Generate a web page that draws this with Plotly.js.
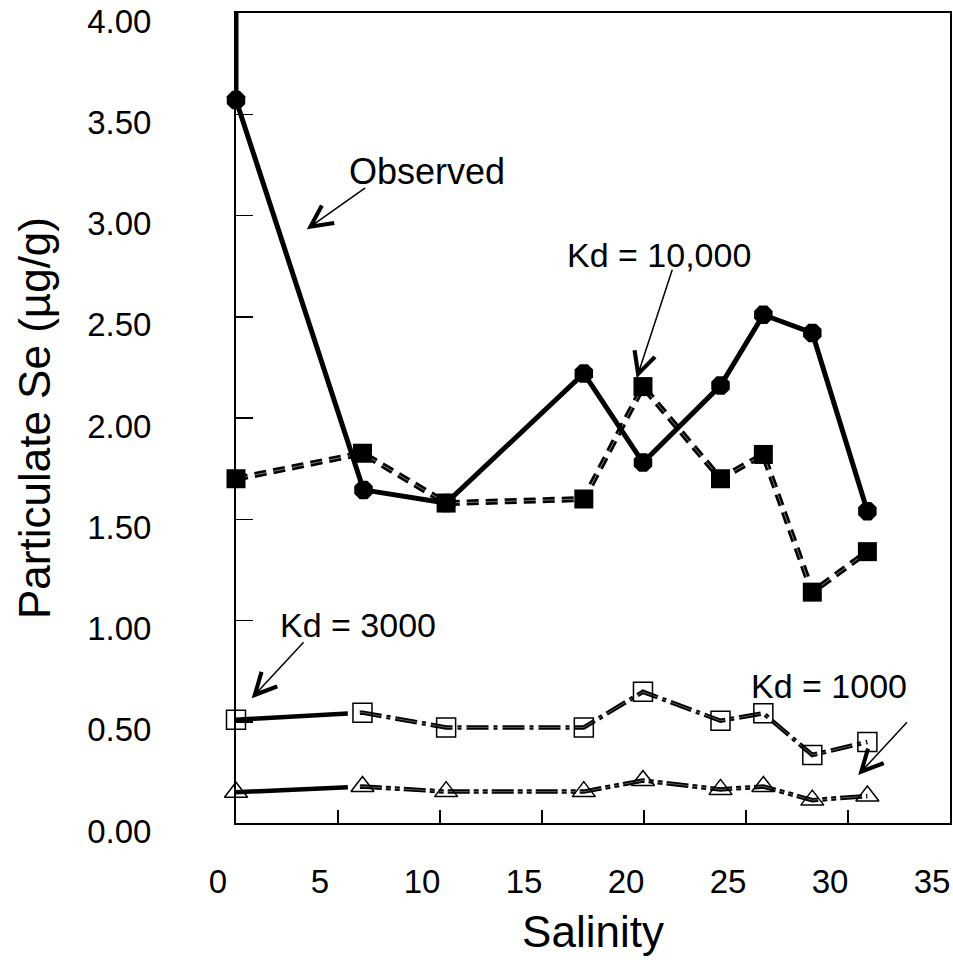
<!DOCTYPE html>
<html>
<head>
<meta charset="utf-8">
<script src="https://cdn.plot.ly/plotly-3.0.1.min.js"></script>
<style>
html,body{margin:0;padding:0;background:#fff;}
#chart{width:953px;height:963px;}
</style>
</head>
<body>
<div id="chart"></div>
<script>
// ---- data ----
const salinity = [0, 6.2, 10.3, 17.05, 19.95, 23.75, 25.85, 28.25, 30.95];
const observedSalinity = [0, 0, 6.25, 10.3, 17.05, 19.95, 23.75, 25.85, 28.25, 30.95];
const observed = [4.6, 3.57, 1.645, 1.58, 2.22, 1.78, 2.16, 2.51, 2.42, 1.54];
const kd10000 = [1.70, 1.826, 1.58, 1.60, 2.155, 1.70, 1.82, 1.14, 1.34];
const kd3000 = [0.51, 0.545, 0.472, 0.472, 0.648, 0.505, 0.542, 0.336, 0.40];
const kd1000 = [0.152, 0.18, 0.155, 0.155, 0.21, 0.166, 0.18, 0.113, 0.133];
const xTicks = [0, 5, 10, 15, 20, 25, 30, 35];
const yTicks = [0, 0.5, 1, 1.5, 2, 2.5, 3, 3.5, 4];

// ---- styles ----
function dashPattern(lead, unit, n) {
  const parts = lead.slice();
  for (let i = 0; i < n; i++) parts.push(...unit);
  return parts.map(v => v + 'px').join(',');
}
const unit3000 = [22, 5, 4, 5];
const unit1000 = [22, 4, 5, 4, 5, 4];
const dash3000 = dashPattern([112, 12], unit3000, 24);
const dash1000 = dashPattern([112, 12], unit1000, 20);
const inner3000 = dashPattern([0, 124], unit3000, 24);
const inner1000 = dashPattern([0, 124], unit1000, 20);
const dash10000 = '12px,7px';
const FONT = 'Liberation Sans, Arial, Helvetica, sans-serif';

function lineTrace(name, x, y, color, width, dash, opacity) {
  return {name: name, x: x, y: y, type: 'scatter', mode: 'lines',
          line: {color: color, width: width, dash: dash}, opacity: opacity || 1,
          hoverinfo: 'skip', cliponaxis: true};
}
function markerTrace(name, x, y, marker) {
  return {name: name, x: x, y: y, type: 'scatter', mode: 'markers', marker: marker, cliponaxis: false};
}

const traces = [
  lineTrace('Kd = 1000', salinity, kd1000, '#000', 4.5, dash1000),
  lineTrace('Kd = 1000 inner', salinity, kd1000, '#fff', 0.6, inner1000, 0.6),
  lineTrace('Kd = 3000', salinity, kd3000, '#000', 4.5, dash3000),
  lineTrace('Kd = 3000 inner', salinity, kd3000, '#fff', 0.6, inner3000, 0.6),
  lineTrace('Kd = 10,000', salinity, kd10000, '#000', 6, dash10000),
  lineTrace('Kd = 10,000 inner', salinity, kd10000, '#fff', 0.7, dash10000, 0.7),
  lineTrace('Observed', observedSalinity, observed, '#000', 5, 'solid'),
  markerTrace('Kd = 1000', salinity, kd1000,
    {symbol: 'triangle-up-open', size: 20, color: '#000', line: {width: 1.5, color: '#000'}}),
  markerTrace('Kd = 3000', salinity, kd3000,
    {symbol: 'square-open', size: 19, color: '#000', line: {width: 1.5, color: '#000'}}),
  markerTrace('Kd = 10,000', salinity, kd10000, {symbol: 'square', size: 19, color: '#000'}),
  markerTrace('Observed', observedSalinity, observed, {symbol: 'octagon', size: 20, color: '#000'})
];

function arrow(hx, hy, tx, ty) {
  return {x: hx, y: hy, ax: tx, ay: ty, xref: 'x', yref: 'y', axref: 'x', ayref: 'y',
          text: '', showarrow: true, arrowhead: 5, arrowsize: 2.8, arrowwidth: 1.5,
          arrowcolor: '#000', standoff: 0, startstandoff: 0};
}
function label(tx, x, y, size) {
  return {x: x, y: y, xref: 'x', yref: 'y', text: tx, showarrow: false,
          xanchor: 'center', yanchor: 'middle', font: {family: FONT, size: size, color: '#000'}};
}

const annotations = [
  label('Observed', 9.36, 3.216, 36), arrow(3.47, 2.932, 6.41, 3.142),
  label('Kd = 10,000', 20.72, 2.805, 34), arrow(19.64, 2.196, 21.41, 2.739),
  label('Kd = 3000', 6.0, 0.978, 34), arrow(0.77, 0.616, 3.38, 0.900),
  label('Kd = 1000', 29.05, 0.677, 34), arrow(30.5, 0.237, 32.96, 0.505)
];

const axisCommon = {
  showline: true, linewidth: 2, linecolor: '#000', mirror: true,
  showgrid: false, zeroline: false, ticks: 'inside', tickcolor: '#000', tickwidth: 1.5,
  tickfont: {family: FONT, size: 33, color: '#000'}, layer: 'below traces', fixedrange: true
};

const layout = {
  width: 953, height: 963,
  margin: {l: 236, r: 3, t: 13, b: 140, pad: 0},
  paper_bgcolor: '#fff', plot_bgcolor: '#fff',
  showlegend: false,
  font: {family: FONT, color: '#000', size: 33},
  xaxis: Object.assign({}, axisCommon, {
    range: [0, 35], tickmode: 'array', tickvals: xTicks, ticktext: xTicks.map(String),
    ticklen: 13, ticklabelstandoff: 28, ticklabelshift: -18,
    title: {text: 'Salinity', font: {family: FONT, size: 44, color: '#000'}, standoff: 18}
  }),
  yaxis: Object.assign({}, axisCommon, {
    range: [0, 4], tickmode: 'array', tickvals: yTicks, ticktext: yTicks.map(v => v.toFixed(2)),
    ticklen: 17, ticklabelstandoff: 76, ticklabelshift: 8,
    title: {text: 'Particulate Se (µg/g)', font: {family: FONT, size: 44, color: '#000'}, standoff: 23}
  }),
  annotations: annotations
};

Plotly.newPlot('chart', traces, layout, {staticPlot: true, displayModeBar: false});
</script>
</body>
</html>
